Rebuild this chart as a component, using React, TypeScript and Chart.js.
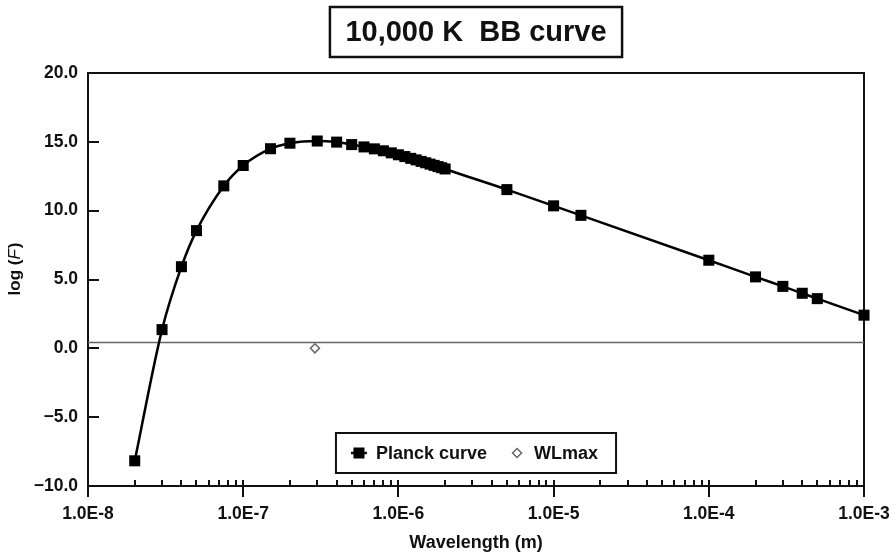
import React, { useEffect, useRef } from 'react';
import { Chart, registerables } from 'chart.js';

Chart.register(...registerables);

// ---------- data ----------
const planckWavelengths = [
  2e-8, 3e-8, 4e-8, 5e-8, 7.5e-8, 1e-7, 1.5e-7, 2e-7, 3e-7, 4e-7, 5e-7, 6e-7, 7e-7, 8e-7, 9e-7,
  1e-6, 1.1e-6, 1.2e-6, 1.3e-6, 1.4e-6, 1.5e-6, 1.6e-6, 1.7e-6, 1.8e-6, 1.9e-6, 2e-6,
  5e-6, 1e-5, 1.5e-5, 1e-4, 2e-4, 3e-4, 4e-4, 5e-4, 1e-3,
];
const planckLogF = [
  -8.17, 1.36, 5.93, 8.55, 11.8, 13.28, 14.5, 14.9, 15.06, 14.98, 14.8, 14.63, 14.49, 14.35, 14.2,
  14.06, 13.93, 13.8, 13.69, 13.58, 13.48, 13.38, 13.29, 13.2, 13.12, 13.03,
  11.53, 10.35, 9.66, 6.4, 5.19, 4.5, 4.0, 3.61, 2.41,
];
const wlMaxWavelength = [2.898e-7];
const wlMaxLogF = [0];
const refLineWavelengths = [1e-8, 1e-3];
const refLineLogF = [0.43, 0.43];

const xDecades = [1e-8, 1e-7, 1e-6, 1e-5, 1e-4, 1e-3];
const xDecadeLabels = ['1.0E-8', '1.0E-7', '1.0E-6', '1.0E-5', '1.0E-4', '1.0E-3'];
const xMinorMultipliers = [2, 3, 4, 5, 6, 7, 8, 9];
const yTickValues = [-10, -5, 0, 5, 10, 15, 20];
const yTickLabels = ['\u221210.0', '\u22125.0', '0.0', '5.0', '10.0', '15.0', '20.0'];

const titleText = '10,000 K  BB curve';
const xTitleText = 'Wavelength (m)';
const planckLabel = 'Planck curve';
const wlMaxLabel = 'WLmax';

const FONT = '"Liberation Sans", Arial, Helvetica, sans-serif';
const INK = '#111';

function buildXTicks() {
  const ticks: { value: number; major: boolean; label: string }[] = [];
  xDecades.forEach((d, i) => {
    ticks.push({ value: d, major: true, label: xDecadeLabels[i] });
    if (i < xDecades.length - 1) {
      xMinorMultipliers.forEach((m) => ticks.push({ value: m * d, major: false, label: '' }));
    }
  });
  return ticks;
}

const decorPlugin = {
  id: 'decor',
  beforeDatasetsDraw(chart: any) {
    const { ctx, chartArea: a } = chart;
    const xs = chart.scales.x;
    const ys = chart.scales.y;
    ctx.save();
    ctx.strokeStyle = INK;
    ctx.lineWidth = 2;
    ctx.strokeRect(a.left, a.top, a.right - a.left, a.bottom - a.top);
    ctx.lineWidth = 2;
    ctx.beginPath();
    xs.ticks.forEach((t: any) => {
      const px = Math.round(xs.getPixelForValue(t.value));
      if (t.major) {
        ctx.moveTo(px, a.bottom - 6);
        ctx.lineTo(px, a.bottom + 11);
      } else {
        ctx.moveTo(px, a.bottom - 6);
        ctx.lineTo(px, a.bottom);
      }
    });
    ys.ticks.forEach((t: any) => {
      const py = Math.round(ys.getPixelForValue(t.value));
      ctx.moveTo(a.left, py);
      ctx.lineTo(a.left + 11, py);
    });
    ctx.stroke();
    ctx.restore();
  },
  afterDraw(chart: any) {
    const { ctx, chartArea: a } = chart;
    const cx = (a.left + a.right) / 2;
    ctx.save();
    // title box
    ctx.font = `bold 29px ${FONT}`;
    ctx.fillStyle = INK;
    ctx.textAlign = 'center';
    ctx.textBaseline = 'middle';
    const tw = ctx.measureText(titleText).width;
    const bw = tw + 31;
    ctx.lineWidth = 2.5;
    ctx.strokeStyle = INK;
    ctx.strokeRect(cx - bw / 2, 7, bw, 50);
    ctx.fillText(titleText, cx, 33);

    // y title with italic F
    ctx.save();
    ctx.translate(15, 269);
    ctx.rotate(-Math.PI / 2);
    ctx.textBaseline = 'middle';
    ctx.textAlign = 'left';
    const p1 = 'log (';
    const p2 = 'F';
    const p3 = ')';
    ctx.font = `bold 17px ${FONT}`;
    const w1 = ctx.measureText(p1).width;
    const w3 = ctx.measureText(p3).width;
    ctx.font = `italic 17px ${FONT}`;
    const w2 = ctx.measureText(p2).width;
    const total = w1 + w2 + w3 + 1;
    let x = -total / 2;
    ctx.font = `bold 17px ${FONT}`;
    ctx.fillText(p1, x, 0);
    x += w1;
    ctx.font = `italic 17px ${FONT}`;
    ctx.fillText(p2, x, 0);
    x += w2 + 1;
    ctx.font = `bold 17px ${FONT}`;
    ctx.fillText(p3, x, 0);
    ctx.restore();

    // legend
    ctx.font = `bold 18px ${FONT}`;
    const t1 = ctx.measureText(planckLabel).width;
    const t2 = ctx.measureText(wlMaxLabel).width;
    const padL = 15, slot = 16, gap = 9, spacing = 22, padR = 18;
    const lw = padL + slot + gap + t1 + spacing + slot + gap + t2 + padR;
    const lh = 40;
    const lx = cx - lw / 2;
    const ly = a.bottom - 13 - lh;
    const my = ly + lh / 2;
    ctx.fillStyle = '#fff';
    ctx.fillRect(lx, ly, lw, lh);
    ctx.lineWidth = 2;
    ctx.strokeStyle = INK;
    ctx.strokeRect(lx, ly, lw, lh);
    // item 1
    let ix = lx + padL;
    ctx.lineWidth = 2.5;
    ctx.beginPath();
    ctx.moveTo(ix, my);
    ctx.lineTo(ix + slot, my);
    ctx.stroke();
    ctx.fillStyle = '#000';
    ctx.fillRect(ix + slot / 2 - 5.5, my - 5.5, 11, 11);
    ix += slot + gap;
    ctx.fillStyle = INK;
    ctx.textAlign = 'left';
    ctx.textBaseline = 'middle';
    ctx.fillText(planckLabel, ix, my + 1);
    ix += t1 + spacing;
    // item 2
    const dx = ix + slot / 2;
    ctx.beginPath();
    ctx.moveTo(dx, my - 4.5);
    ctx.lineTo(dx + 4.5, my);
    ctx.lineTo(dx, my + 4.5);
    ctx.lineTo(dx - 4.5, my);
    ctx.closePath();
    ctx.fillStyle = '#fff';
    ctx.fill();
    ctx.lineWidth = 1.5;
    ctx.strokeStyle = '#666';
    ctx.stroke();
    ix += slot + gap;
    ctx.fillStyle = INK;
    ctx.fillText(wlMaxLabel, ix, my + 1);
    ctx.restore();
  },
};

export default function App() {
  const canvasRef = useRef<HTMLCanvasElement | null>(null);

  useEffect(() => {
    document.body.style.margin = '0';
    const canvas = canvasRef.current;
    if (!canvas) return;
    const xTicks = buildXTicks();
    const chart = new Chart(canvas, {
      type: 'scatter',
      data: {
        datasets: [
          {
            label: planckLabel,
            data: planckWavelengths.map((w, i) => ({ x: w, y: planckLogF[i] })),
            showLine: true,
            borderColor: '#000',
            borderWidth: 2.5,
            backgroundColor: '#000',
            pointStyle: 'rect',
            pointRadius: 7.8,
            pointBorderWidth: 0,
            pointBackgroundColor: '#000',
            cubicInterpolationMode: 'monotone',
            clip: false,
            order: 1,
          } as any,
          {
            label: wlMaxLabel,
            data: wlMaxWavelength.map((w, i) => ({ x: w, y: wlMaxLogF[i] })),
            showLine: false,
            pointStyle: 'rectRot',
            pointRadius: 4.5,
            pointBackgroundColor: '#fff',
            pointBorderColor: '#666',
            pointBorderWidth: 1.5,
            order: 2,
          } as any,
          {
            label: 'ref',
            data: refLineWavelengths.map((w, i) => ({ x: w, y: refLineLogF[i] })),
            showLine: true,
            borderColor: '#666',
            borderWidth: 1.5,
            pointRadius: 0,
            order: 3,
          } as any,
        ],
      },
      options: {
        animation: false,
        responsive: true,
        maintainAspectRatio: false,
        devicePixelRatio: 1,
        layout: { padding: { top: 73, right: 32, left: 0, bottom: 0 } },
        plugins: {
          legend: { display: false },
          title: { display: false },
          tooltip: { enabled: false },
        },
        scales: {
          x: {
            type: 'logarithmic',
            min: 1e-8,
            max: 1e-3,
            afterBuildTicks: (scale: any) => {
              scale.ticks = xTicks.map((t) => ({ value: t.value, major: t.major }));
            },
            afterFit: (scale: any) => {
              scale.height = 71;
              scale.paddingRight = 0;
              scale.paddingLeft = 0;
            },
            grid: { display: false, drawTicks: false },
            border: { display: false },
            ticks: {
              autoSkip: false,
              maxRotation: 0,
              minRotation: 0,
              padding: 18,
              color: INK,
              font: { family: FONT, size: 17.5, weight: 'bold' },
              callback: (_v: any, i: number) => xTicks[i]?.label ?? '',
            },
            title: {
              display: true,
              text: xTitleText,
              color: INK,
              font: { family: FONT, size: 18, weight: 'bold' },
              padding: { top: 0, bottom: 3 },
            },
          },
          y: {
            type: 'linear',
            min: -10,
            max: 20,
            afterBuildTicks: (scale: any) => {
              scale.ticks = yTickValues.map((v) => ({ value: v }));
            },
            afterFit: (scale: any) => {
              scale.width = 88;
              scale.paddingTop = 0;
              scale.paddingBottom = 0;
            },
            grid: { display: false, drawTicks: false },
            border: { display: false },
            ticks: {
              padding: 10,
              color: INK,
              font: { family: FONT, size: 17.5, weight: 'bold' },
              callback: (_v: any, i: number) => yTickLabels[i] ?? '',
            },
          },
        },
      } as any,
      plugins: [decorPlugin],
    });
    return () => chart.destroy();
  }, []);

  return (
    <div style={{ width: 896, height: 557, position: 'relative', background: '#fff' }}>
      <canvas ref={canvasRef} style={{ display: 'block' }} />
    </div>
  );
}
